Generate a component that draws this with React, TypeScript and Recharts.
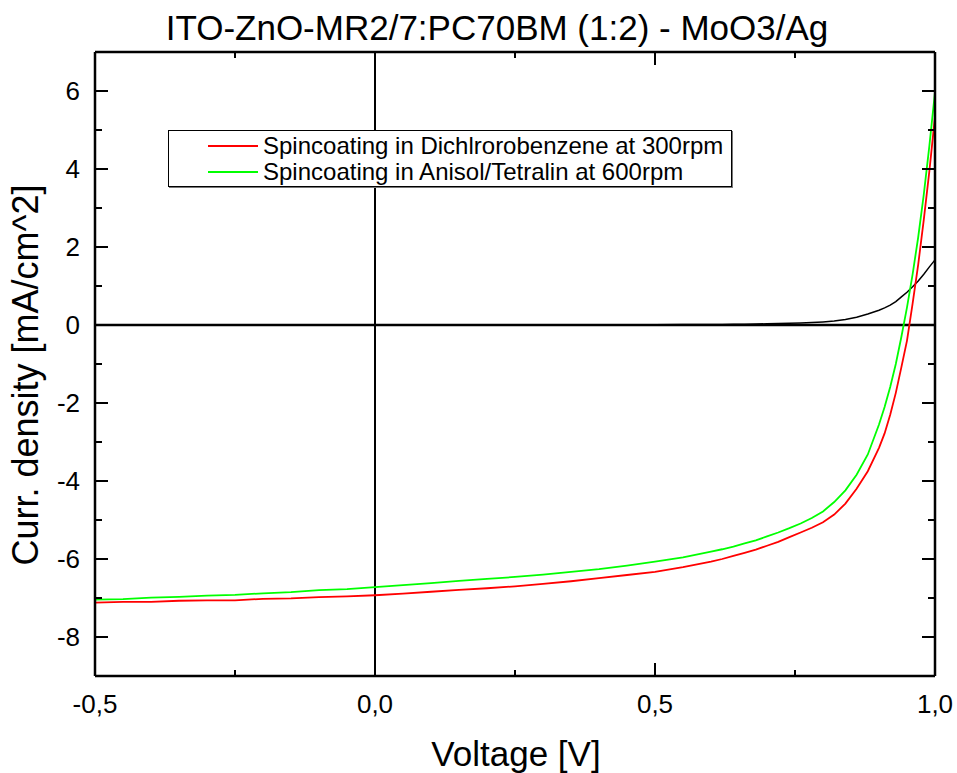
import {
  LineChart,
  Line,
  XAxis,
  YAxis,
  ReferenceLine,
  Legend,
} from "recharts";

const FONT = '"Liberation Sans", Arial, sans-serif';

// voltage sweep [V]
const voltage = [
  -0.5, -0.45, -0.4, -0.35, -0.3, -0.25, -0.2, -0.15, -0.1, -0.05, 0, 0.05,
  0.1, 0.15, 0.2, 0.25, 0.3, 0.35, 0.4, 0.45, 0.5, 0.55, 0.6, 0.62, 0.64,
  0.66, 0.68, 0.7, 0.72, 0.74, 0.76, 0.78, 0.8, 0.82, 0.84, 0.86, 0.88, 0.9,
  0.91, 0.92, 0.93, 0.94, 0.95, 0.96, 0.97, 0.98, 0.99, 1.0,
];

// current density [mA/cm^2], Dichlorobenzene 300rpm (red)
const jDichloro = [
  -7.12, -7.1, -7.1, -7.07, -7.06, -7.06, -7.02, -7.01, -6.98, -6.96, -6.93,
  -6.89, -6.84, -6.79, -6.75, -6.7, -6.64, -6.57, -6.49, -6.41, -6.33, -6.21,
  -6.07, -6.0, -5.92, -5.84, -5.76, -5.66, -5.56, -5.44, -5.32, -5.2, -5.06,
  -4.86, -4.58, -4.2, -3.75, -3.15, -2.78, -2.3, -1.74, -1.08, -0.4, 0.55,
  1.55, 2.7, 3.95, 5.35,
];

// Anisol/Tetralin 600rpm (green)
const jAnisol = [
  -7.04, -7.03, -6.99, -6.97, -6.94, -6.92, -6.88, -6.85, -6.8, -6.77, -6.72,
  -6.67, -6.62, -6.56, -6.51, -6.46, -6.4, -6.33, -6.26, -6.17, -6.07, -5.96,
  -5.81, -5.75, -5.68, -5.6, -5.52, -5.42, -5.32, -5.21, -5.09, -4.95, -4.78,
  -4.54, -4.24, -3.84, -3.32, -2.55, -2.1, -1.59, -1.0, -0.3, 0.45, 1.3, 2.25,
  3.35, 4.6, 5.97,
];

// dark curve (black)
const jDark = [
  0, 0, 0, 0, 0, 0, 0, 0, 0, 0, 0, 0, 0, 0, 0, 0, 0, 0.002, 0.004, 0.006,
  0.008, 0.01, 0.014, 0.016, 0.018, 0.022, 0.026, 0.03, 0.036, 0.042, 0.05,
  0.062, 0.08, 0.1, 0.14, 0.2, 0.28, 0.38, 0.44, 0.51, 0.6, 0.72, 0.84, 0.98,
  1.13, 1.3, 1.49, 1.67,
];

const xTicks = [-0.5, -0.25, 0, 0.25, 0.5, 0.75, 1.0];
const yTicks = [-8, -7, -6, -5, -4, -3, -2, -1, 0, 1, 2, 3, 4, 5, 6];

const seriesNames = [
  "Spincoating in Dichlrorobenzene at 300rpm",
  "Spincoating in Anisol/Tetralin at 600rpm",
];

const data = voltage.map((v, i) => ({
  v,
  dcb: jDichloro[i],
  anisol: jAnisol[i],
  dark: jDark[i],
}));

const isMajorX = (v: number) => Math.abs(v * 2 - Math.round(v * 2)) < 1e-6;
const isMajorY = (v: number) => Math.abs(v) % 2 === 0;
const fmtX = (v: number) => v.toFixed(1).replace(".", ",");

const BottomTick = (props: any) => {
  const { x, y, payload } = props;
  const major = isMajorX(payload.value);
  return (
    <g>
      <line x1={x} y1={y} x2={x} y2={y - (major ? 13 : 6)} stroke="#000" strokeWidth={2} />
      {major && (
        <text x={x} y={y + 37} textAnchor="middle" fontSize={26} fontFamily={FONT} fill="#000">
          {fmtX(payload.value)}
        </text>
      )}
    </g>
  );
};

const TopTick = (props: any) => {
  const { x, y, payload } = props;
  const major = isMajorX(payload.value);
  return <line x1={x} y1={y} x2={x} y2={y + (major ? 13 : 6)} stroke="#000" strokeWidth={2} />;
};

const LeftTick = (props: any) => {
  const { x, y, payload } = props;
  const major = isMajorY(payload.value);
  return (
    <g>
      <line x1={x} y1={y} x2={x + (major ? 13 : 7)} y2={y} stroke="#000" strokeWidth={2} />
      {major && (
        <text x={x - 15} y={y + 9} textAnchor="end" fontSize={26} fontFamily={FONT} fill="#000">
          {payload.value}
        </text>
      )}
    </g>
  );
};

const RightTick = (props: any) => {
  const { x, y, payload } = props;
  const major = isMajorY(payload.value);
  return <line x1={x} y1={y} x2={x - (major ? 13 : 7)} y2={y} stroke="#000" strokeWidth={2} />;
};

const LegendBox = (props: any) => {
  const items = (props.payload || [])
    .filter((p: any) => seriesNames.includes(p.value))
    .sort((a: any, b: any) => seriesNames.indexOf(a.value) - seriesNames.indexOf(b.value));
  return (
    <div
      style={{
        width: 564,
        height: 57,
        boxSizing: "border-box",
        border: "1px solid #000",
        boxShadow: "1px 1px 0 #777",
        background: "#fff",
        paddingTop: 2,
        fontFamily: FONT,
        fontSize: 24,
        color: "#000",
      }}
    >
      {items.map((p: any) => (
        <div key={p.value} style={{ display: "flex", alignItems: "center", height: 26 }}>
          <div style={{ marginLeft: 39, width: 50, height: 2, background: p.color }} />
          <span style={{ marginLeft: 5, whiteSpace: "nowrap" }}>{p.value}</span>
        </div>
      ))}
    </div>
  );
};

const App = () => {
  return (
    <div style={{ position: "absolute", left: 0, top: 0, width: 957, height: 773, background: "#fff" }}>
      <LineChart
        width={957}
        height={773}
        data={data}
        margin={{ top: 0, right: 0, bottom: 0, left: 0 }}
      >
        <XAxis
          dataKey="v"
          type="number"
          domain={[-0.5, 1]}
          allowDataOverflow
          ticks={xTicks}
          interval={0}
          height={97}
          tickLine={false}
          tickSize={0}
          tickMargin={0}
          axisLine={{ stroke: "#000", strokeWidth: 2.5 }}
          tick={BottomTick}
          label={{
            content: () => (
              <text x={516} y={766} textAnchor="middle" fontSize={35} fontFamily={FONT} fill="#000">
                Voltage [V]
              </text>
            ),
          }}
        />
        <XAxis
          xAxisId="top"
          orientation="top"
          dataKey="v"
          type="number"
          domain={[-0.5, 1]}
          allowDataOverflow
          ticks={xTicks}
          interval={0}
          height={52}
          tickLine={false}
          tickSize={0}
          tickMargin={0}
          axisLine={{ stroke: "#000", strokeWidth: 2.5 }}
          tick={TopTick}
          label={{
            content: () => (
              <text x={497} y={40} textAnchor="middle" fontSize={35} fontFamily={FONT} fill="#000">
                ITO-ZnO-MR2/7:PC70BM (1:2) - MoO3/Ag
              </text>
            ),
          }}
        />
        <YAxis
          type="number"
          domain={[-9, 7]}
          allowDataOverflow
          ticks={yTicks}
          interval={0}
          width={95}
          tickLine={false}
          tickSize={0}
          tickMargin={0}
          axisLine={{ stroke: "#000", strokeWidth: 2.5 }}
          tick={LeftTick}
          label={{
            content: () => (
              <text
                x={38}
                y={375}
                transform="rotate(-90, 38, 375)"
                textAnchor="middle"
                fontSize={36}
                fontFamily={FONT}
                fill="#000"
              >
                Curr. density [mA/cm^2]
              </text>
            ),
          }}
        />
        <YAxis
          yAxisId="right"
          orientation="right"
          type="number"
          domain={[-9, 7]}
          allowDataOverflow
          ticks={yTicks}
          interval={0}
          width={22}
          tickLine={false}
          tickSize={0}
          tickMargin={0}
          axisLine={{ stroke: "#000", strokeWidth: 2.5 }}
          tick={RightTick}
        />
        <ReferenceLine x={0} stroke="#000" strokeWidth={2} />
        <ReferenceLine y={0} stroke="#000" strokeWidth={2.5} />
        <Line
          type="linear"
          dataKey="dark"
          name="dark"
          stroke="#000"
          strokeWidth={1.5}
          dot={false}
          legendType="none"
          isAnimationActive={false}
        />
        <Line
          type="linear"
          dataKey="dcb"
          name={seriesNames[0]}
          stroke="#ff0000"
          strokeWidth={1.8}
          dot={false}
          isAnimationActive={false}
        />
        <Line
          type="linear"
          dataKey="anisol"
          name={seriesNames[1]}
          stroke="#00ff00"
          strokeWidth={1.8}
          dot={false}
          isAnimationActive={false}
        />
        <Legend
          layout="vertical"
          align="center"
          verticalAlign="middle"
          content={LegendBox}
          wrapperStyle={{ left: 168, top: 130, width: 564 }}
        />
      </LineChart>
    </div>
  );
};

export default App;
